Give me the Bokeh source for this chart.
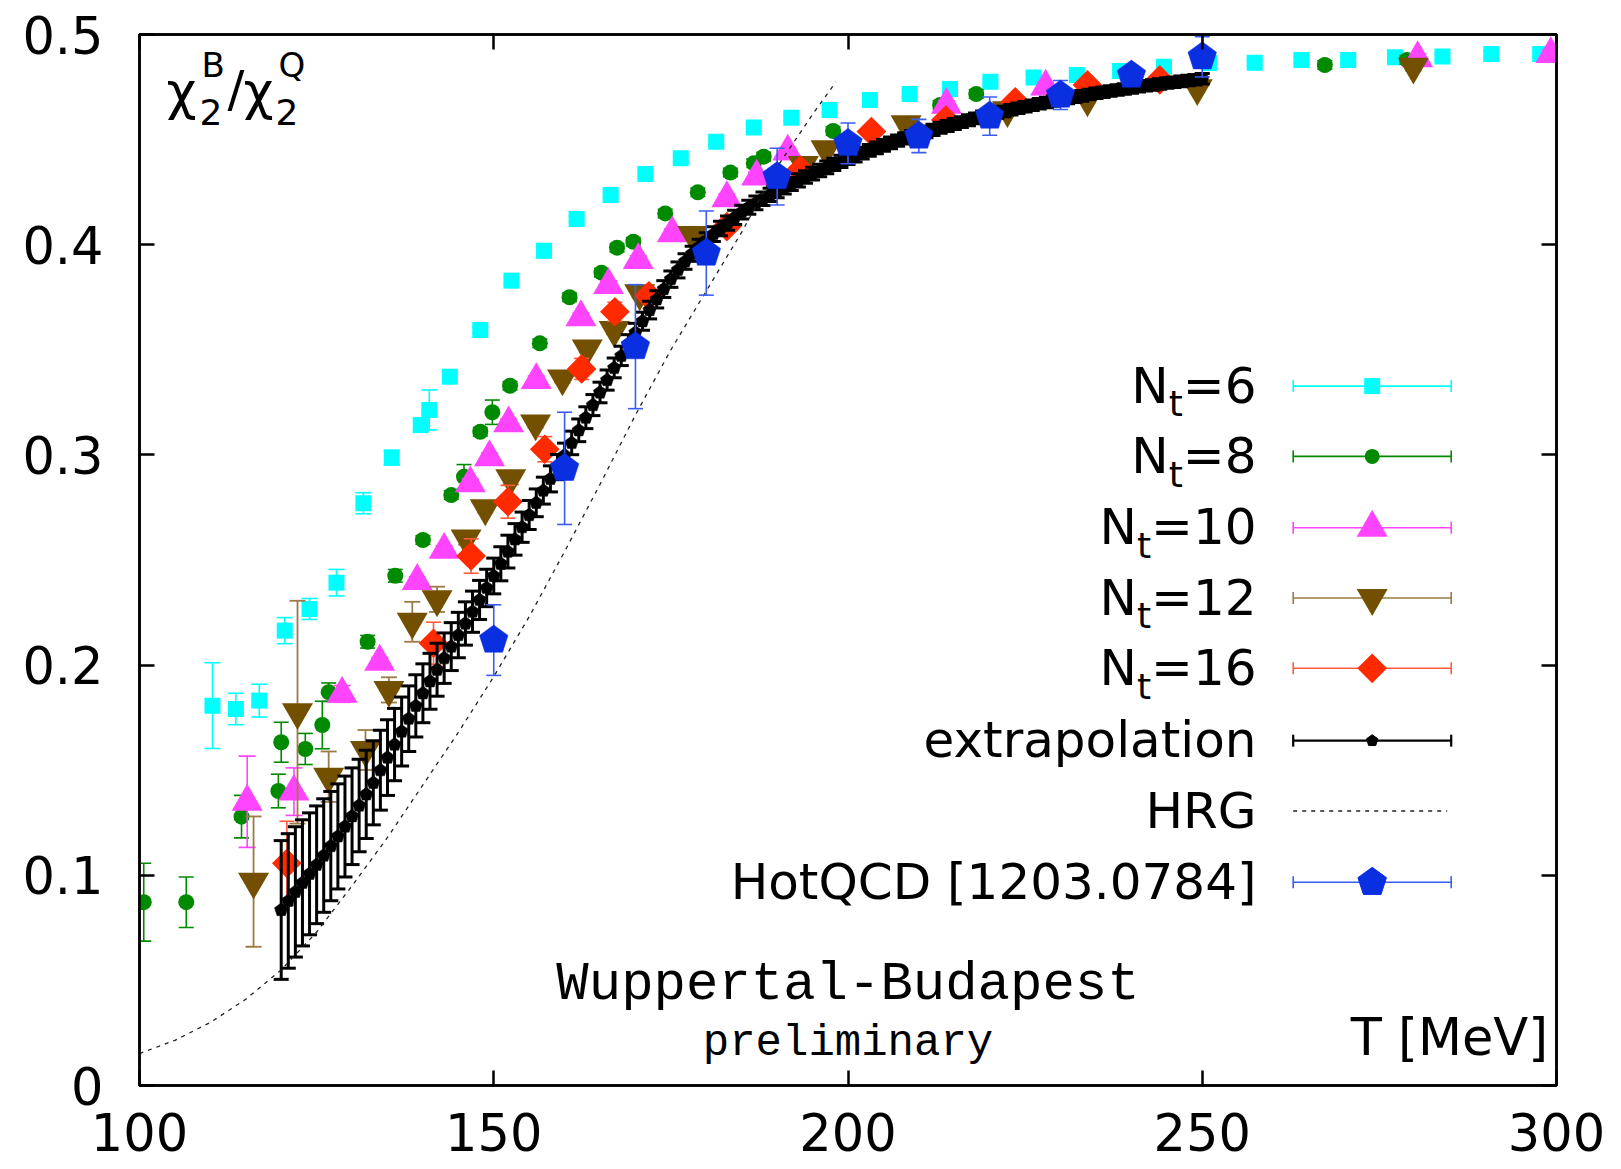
import math
from bokeh.plotting import figure
from bokeh.models import Range1d, LinearAxis, FixedTicker
from bokeh.embed import file_html
from bokeh.resources import INLINE
from bokeh.core.properties import value

# ---------------- data ----------------
nt6_T = [110.3, 113.6, 116.9, 120.5, 124.0, 127.8, 131.6, 135.6, 139.7, 140.9, 143.8, 148.1, 152.5,
         157.1, 161.7, 166.5, 171.4, 176.4, 181.4, 186.7, 192.0, 197.4, 203.1, 208.7, 214.4, 220.1,
         226.2, 232.3, 238.4, 244.6, 251.0, 257.4, 264.0, 270.6, 277.2, 283.9, 290.8, 297.7]
nt6_v = [0.1807, 0.1791, 0.1831, 0.2164, 0.2267, 0.2392, 0.2770, 0.2987, 0.3142, 0.3214, 0.3372, 0.3594,
         0.3829, 0.3971, 0.4122, 0.4236, 0.4336, 0.4411, 0.4490, 0.4557, 0.4604, 0.4641, 0.4688, 0.4717,
         0.4741, 0.4775, 0.4795, 0.4807, 0.4826, 0.4847, 0.4864, 0.4866, 0.4879, 0.4879, 0.4892, 0.4895,
         0.4907, 0.4907]
nt6_e = [0.0204, 0.0075, 0.0078, 0.0062, 0.0050, 0.0063, 0.0050, 0.0035, 0.0030, 0.0095, 0.0020, 0.0015,
         0.0015, 0.0015, 0.0015, 0.0015, 0.0015, 0.0015, 0.0015, 0.0015, 0.0015, 0.0015, 0.0015, 0.0015,
         0.0015, 0.0015, 0.0015, 0.0015, 0.0015, 0.0015, 0.0015, 0.0015, 0.0015, 0.0015, 0.0015, 0.0015,
         0.0015, 0.0015]

nt8_T = [100.6, 106.6, 114.4, 119.6, 120.0, 123.4, 125.8, 126.7, 132.2, 136.1, 140.0, 144.0, 145.8,
         148.1, 149.8, 152.3, 156.5, 160.7, 165.2, 167.4, 169.7, 174.2, 178.8, 183.4, 186.7, 188.1,
         197.9, 213.0, 218.1, 267.3, 278.9]
nt8_v = [0.0872, 0.0872, 0.1279, 0.1401, 0.1633, 0.1601, 0.1715, 0.1871, 0.2111, 0.2425, 0.2595, 0.2809,
         0.2896, 0.3110, 0.3203, 0.3329, 0.3531, 0.3750, 0.3867, 0.3986, 0.4014, 0.4149, 0.4249, 0.4343,
         0.4387, 0.4419, 0.4541, 0.4665, 0.4717, 0.4855, 0.4879]
nt8_e = [0.0185, 0.0120, 0.0101, 0.0080, 0.0095, 0.0074, 0.0113, 0.0044, 0.0030, 0.0030, 0.0020, 0.0020,
         0.0058, 0.0020, 0.0058, 0.0020, 0.0020, 0.0020, 0.0020, 0.0020, 0.0020, 0.0020, 0.0020, 0.0020,
         0.0020, 0.0020, 0.0020, 0.0020, 0.0020, 0.0020, 0.0020]

nt10_T = [115.2, 121.8, 128.6, 133.9, 139.2, 143.0, 146.7, 149.4, 152.1, 156.0, 162.3, 166.2, 170.4,
          175.2, 182.9, 187.1, 191.5, 213.9, 227.9, 280.4, 299.2]
nt10_v = [0.1350, 0.1398, 0.1863, 0.2016, 0.2400, 0.2548, 0.2865, 0.2989, 0.3150, 0.3356, 0.3655, 0.3808,
          0.3927, 0.4054, 0.4221, 0.4324, 0.4443, 0.4665, 0.4752, 0.4887, 0.4907]
nt10_e = [0.0217, 0.0113, 0.0040, 0.0020, 0.0020, 0.0020, 0.0020, 0.0020, 0.0020, 0.0020, 0.0020, 0.0020,
          0.0020, 0.0020, 0.0020, 0.0020, 0.0020, 0.0020, 0.0020, 0.0020, 0.0020]

nt12_T = [116.1, 122.3, 126.7, 131.9, 135.2, 138.5, 142.0, 146.1, 148.8, 152.4, 155.9, 159.7, 163.2,
          167.0, 170.6, 178.1, 193.7, 196.9, 208.2, 222.5, 233.8, 249.3, 279.8]
nt12_v = [0.0970, 0.1776, 0.1469, 0.1596, 0.1882, 0.2206, 0.2313, 0.2603, 0.2746, 0.2889, 0.3150, 0.3364,
          0.3507, 0.3594, 0.3769, 0.4046, 0.4379, 0.4454, 0.4573, 0.4640, 0.4692, 0.4745, 0.4847]
nt12_e = [0.0310, 0.0530, 0.0120, 0.0095, 0.0060, 0.0095, 0.0060, 0.0030, 0.0020, 0.0030, 0.0020, 0.0020,
          0.0020, 0.0020, 0.0020, 0.0020, 0.0020, 0.0020, 0.0020, 0.0020, 0.0020, 0.0020, 0.0020]

nt16_T = [120.8, 141.5, 146.8, 152.0, 157.2, 162.4, 167.1, 171.9, 182.9, 193.3, 203.3, 213.8, 223.6,
          233.8, 244.0]
nt16_v = [0.1057, 0.2104, 0.2519, 0.2777, 0.3027, 0.3409, 0.3681, 0.3757, 0.4086, 0.4355, 0.4538, 0.4593,
          0.4680, 0.4760, 0.4784]
nt16_e = [0.0200, 0.0100, 0.0082, 0.0078, 0.0060, 0.0050, 0.0045, 0.0030, 0.0020, 0.0020, 0.0020, 0.0020,
          0.0020, 0.0020, 0.0020]

hot_T = [150, 160, 170, 180, 190, 200, 210, 220, 230, 240, 250]
hot_v = [0.2119, 0.2936, 0.3515, 0.3960, 0.4324, 0.4482, 0.4517, 0.4612, 0.4712, 0.4807, 0.4894]
hot_e = [0.0168, 0.0267, 0.0295, 0.0200, 0.0135, 0.0097, 0.0079, 0.0091, 0.0069, 0.0030, 0.0096]

ext_T = list(range(120, 251))
ext_v = [0.0835, 0.0878, 0.0921, 0.0964, 0.1007, 0.1050, 0.1094, 0.1139, 0.1185, 0.1232,
         0.1281, 0.1332, 0.1385, 0.1440, 0.1500, 0.1560, 0.1622, 0.1684, 0.1745, 0.1806,
         0.1866, 0.1923, 0.1978, 0.2033, 0.2088, 0.2143, 0.2198, 0.2254, 0.2310, 0.2367,
         0.2424, 0.2482, 0.2540, 0.2598, 0.2656, 0.2714, 0.2772, 0.2830, 0.2886, 0.2942,
         0.2998, 0.3057, 0.3117, 0.3177, 0.3237, 0.3297, 0.3356, 0.3414, 0.3471, 0.3527,
         0.3582, 0.3636, 0.3689, 0.3740, 0.3789, 0.3836, 0.3880, 0.3920, 0.3957, 0.3991,
         0.4022, 0.4050, 0.4077, 0.4103, 0.4130, 0.4155, 0.4178, 0.4199, 0.4219, 0.4237,
         0.4255, 0.4272, 0.4289, 0.4306, 0.4322, 0.4338, 0.4353, 0.4368, 0.4382, 0.4396,
         0.4410, 0.4423, 0.4436, 0.4449, 0.4461, 0.4473, 0.4484, 0.4495, 0.4506, 0.4516,
         0.4526, 0.4536, 0.4546, 0.4556, 0.4565, 0.4574, 0.4583, 0.4592, 0.4601, 0.4610,
         0.4618, 0.4626, 0.4634, 0.4642, 0.4649, 0.4656, 0.4663, 0.4670, 0.4677, 0.4684,
         0.4690, 0.4696, 0.4702, 0.4708, 0.4714, 0.4720, 0.4725, 0.4731, 0.4736, 0.4741,
         0.4746, 0.4751, 0.4756, 0.4760, 0.4765, 0.4769, 0.4773, 0.4777, 0.4781, 0.4785,
         0.4789]
ext_e = [0.0330, 0.0320, 0.0310, 0.0300, 0.0290, 0.0280, 0.0270, 0.0260, 0.0250, 0.0240,
         0.0230, 0.0220, 0.0210, 0.0200, 0.0190, 0.0180, 0.0172, 0.0164, 0.0156, 0.0148,
         0.0140, 0.0133, 0.0126, 0.0120, 0.0114, 0.0108, 0.0103, 0.0098, 0.0093, 0.0089,
         0.0085, 0.0081, 0.0078, 0.0075, 0.0072, 0.0069, 0.0066, 0.0064, 0.0062, 0.0060,
         0.0058, 0.0056, 0.0054, 0.0052, 0.0050, 0.0049, 0.0048, 0.0047, 0.0046, 0.0045,
         0.0044, 0.0043, 0.0042, 0.0041, 0.0040, 0.0039, 0.0038, 0.0037, 0.0036, 0.0035,
         0.0035, 0.0035, 0.0034, 0.0034, 0.0034, 0.0033, 0.0033, 0.0033, 0.0032, 0.0032,
         0.0032, 0.0031, 0.0031, 0.0031, 0.0030, 0.0030, 0.0030, 0.0030, 0.0029, 0.0029,
         0.0029, 0.0029, 0.0028, 0.0028, 0.0028, 0.0028, 0.0028, 0.0027, 0.0027, 0.0027,
         0.0027, 0.0027, 0.0027, 0.0026, 0.0026, 0.0026, 0.0026, 0.0026, 0.0026, 0.0026,
         0.0025, 0.0025, 0.0025, 0.0025, 0.0025, 0.0025, 0.0025, 0.0025, 0.0025, 0.0025,
         0.0025, 0.0025, 0.0025, 0.0025, 0.0025, 0.0025, 0.0025, 0.0025, 0.0025, 0.0025,
         0.0025, 0.0025, 0.0025, 0.0025, 0.0025, 0.0025, 0.0025, 0.0025, 0.0025, 0.0025,
         0.0025]

hrg_T = [100, 105, 110, 115, 120, 125, 130, 135, 140, 145, 150, 155, 160, 165, 170, 175, 180, 185,
         190, 195, 198.3]
hrg_v = [0.0152, 0.0215, 0.0300, 0.0410, 0.0550, 0.0730, 0.0950, 0.1180, 0.1430, 0.1680, 0.1945,
         0.2230, 0.2540, 0.2860, 0.3190, 0.3500, 0.3780, 0.4060, 0.4370, 0.4620, 0.4775]

x_ticks = [100, 150, 200, 250, 300]
y_ticks = [0, 0.1, 0.2, 0.3, 0.4, 0.5]
y_tick_labels = ["0", "0.1", "0.2", "0.3", "0.4", "0.5"]

# ---------------- layout ----------------
W, H = 1613, 1169
ML, MR, MT, MB = 139, 57, 34, 84
FW = W - ML - MR
FH = H - MT - MB
X0, X1, Y0, Y1 = 100, 300, 0.0, 0.5
SX = FW / (X1 - X0)
SY = FH / (Y1 - Y0)
BASE_FIX = 0.31   # empirical baseline correction (em)


def X(px):
    return X0 + px / SX


def Y(py):
    return Y1 - py / SY


FONT = "DejaVu Sans"

p = figure(width=W, height=H, x_range=Range1d(X0, X1), y_range=Range1d(Y0, Y1),
           output_backend="svg", toolbar_location=None,
           min_border_left=ML, min_border_right=MR, min_border_top=MT, min_border_bottom=MB)
p.xgrid.visible = False
p.ygrid.visible = False
p.outline_line_color = "black"
p.outline_line_width = 2.5
p.background_fill_color = "white"
p.border_fill_color = "white"

p.xaxis.ticker = FixedTicker(ticks=x_ticks)
p.yaxis.ticker = FixedTicker(ticks=y_ticks)
p.yaxis.major_label_overrides = {t: s for t, s in zip(y_ticks, y_tick_labels)}
for ax in (p.xaxis[0], p.yaxis[0]):
    ax.axis_line_width = 2.5
    ax.major_tick_in = 15
    ax.major_tick_out = 0
    ax.major_tick_line_width = 2.5
    ax.minor_tick_line_color = None
    ax.major_label_text_font = FONT
    ax.major_label_text_font_size = "51px"
    ax.major_label_text_color = "black"
p.yaxis.major_label_standoff = 36
p.xaxis.major_label_standoff = 27

top = LinearAxis(ticker=FixedTicker(ticks=x_ticks), major_label_text_font_size="0px",
                 major_label_standoff=0, major_tick_in=15, major_tick_out=0,
                 major_tick_line_width=2.5, axis_line_width=2.5, minor_tick_line_color=None)
right = LinearAxis(ticker=FixedTicker(ticks=y_ticks), major_label_text_font_size="0px",
                   major_label_standoff=0, major_tick_in=15, major_tick_out=0,
                   major_tick_line_width=2.5, axis_line_width=2.5, minor_tick_line_color=None)
p.add_layout(top, "above")
p.add_layout(right, "right")

C6, C8, C10, C12, C16, CX, CH = "#00ffff", "#008a00", "#ff44ff", "#735000", "#ff2a00", "#000000", "#0a2fe0"
B12 = "#9c7a45"
B16 = "#ff5a3a"
BH = "#3a5cf0"


def errbars(T, v, e, color, cap, lw):
    top_ = [a + b for a, b in zip(v, e)]
    bot_ = [a - b for a, b in zip(v, e)]
    p.segment(T, bot_, T, top_, line_color=color, line_width=lw)
    p.scatter(list(T) + list(T), top_ + bot_, marker="dash", size=cap, line_color=color, line_width=lw)


def pentagons(T, v, R):
    xs, ys = [], []
    for t, y in zip(T, v):
        ang = [math.pi / 2 + k * 2 * math.pi / 5 for k in range(5)]
        xs.append([t + R * math.cos(a) / SX for a in ang])
        ys.append([y + R * math.sin(a) / SY for a in ang])
    return xs, ys


# Nt=6
errbars(nt6_T, nt6_v, nt6_e, C6, 16, 1.6)
p.scatter(nt6_T, nt6_v, marker="square", size=16, fill_color=C6, line_color=None)
# Nt=8
errbars(nt8_T, nt8_v, nt8_e, C8, 15, 1.6)
p.scatter(nt8_T, nt8_v, marker="circle", size=16, fill_color=C8, line_color=None)
# Nt=10
errbars(nt10_T, nt10_v, nt10_e, C10, 17, 1.6)
p.scatter(nt10_T, nt10_v, marker="triangle", size=31, fill_color=C10, line_color=None)
# Nt=12
errbars(nt12_T, nt12_v, nt12_e, B12, 16, 1.8)
p.scatter(nt12_T, nt12_v, marker="inverted_triangle", size=31, fill_color=C12, line_color=None)
# Nt=16
errbars(nt16_T, nt16_v, nt16_e, B16, 15, 1.6)
p.scatter(nt16_T, nt16_v, marker="square", angle=math.pi / 4, size=21, fill_color=C16, line_color=None)
# extrapolation
errbars(ext_T, ext_v, ext_e, CX, 15, 3.0)
exs, eys = pentagons(ext_T, ext_v, 7)
p.patches(exs, eys, fill_color=CX, line_color=CX, line_width=0.5)
# HRG
p.line(hrg_T, hrg_v, line_color="#222222", line_width=1.3, line_dash="4 5")
# HotQCD
errbars(hot_T, hot_v, hot_e, BH, 15, 1.6)
hxs, hys = pentagons(hot_T, hot_v, 15)
p.patches(hxs, hys, fill_color=CH, line_color=CH, line_width=0.5)

# ---------------- legend (drawn) ----------------
LX_TEXT = 1117          # px from frame left (right edge of texts)
LX_L, LX_R, LX_M = 1153.7, 1311.7, 1232.7
ROWS = [351.6, 421.9, 493.2, 563.5, 633.8, 706.2, 776.5, 847.8]
LFS = 50
CAPH = 15  # px from row line down to text baseline


def text(xv, py, s, size, font=FONT, align="left", color="black"):
    p.text(x=[xv], y=[Y(py - BASE_FIX * size)], text=[s], text_font=value(font),
           text_font_size=value(f"{size}px"), text_align=align, text_baseline="alphabetic",
           text_color=color)


def sample(row, color, lw=1.6):
    yv = Y(ROWS[row])
    p.segment([X(LX_L)], [yv], [X(LX_R)], [yv], line_color=color, line_width=lw)
    p.scatter([X(LX_L), X(LX_R)], [yv, yv], marker="dash", angle=math.pi / 2, size=12,
              line_color=color, line_width=lw)


nt_names = ["6", "8", "10", "12", "16"]
EQW = 0.838 * LFS
DGW = 0.636 * LFS
TW = 0.392 * 36
for i, n in enumerate(nt_names):
    rest = "=" + n
    wrest = EQW + DGW * len(n)
    text(X(LX_TEXT), ROWS[i] + CAPH, rest, LFS, align="right")
    text(X(LX_TEXT - wrest), ROWS[i] + CAPH + 14, "t", 36, align="right")
    text(X(LX_TEXT - wrest - TW), ROWS[i] + CAPH, "N", LFS, align="right")

text(X(LX_TEXT), ROWS[5] + CAPH, "extrapolation", LFS, align="right")
text(X(LX_TEXT), ROWS[6] + CAPH, "HRG", LFS, align="right")
text(X(LX_TEXT), ROWS[7] + CAPH, "HotQCD [1203.0784]", LFS, align="right")

sample(0, C6)
p.scatter([X(LX_M)], [Y(ROWS[0])], marker="square", size=16, fill_color=C6, line_color=None)
sample(1, C8)
p.scatter([X(LX_M)], [Y(ROWS[1])], marker="circle", size=15, fill_color=C8, line_color=None)
sample(2, C10)
p.scatter([X(LX_M)], [Y(ROWS[2])], marker="triangle", size=31, fill_color=C10, line_color=None)
sample(3, B12)
p.scatter([X(LX_M)], [Y(ROWS[3])], marker="inverted_triangle", size=31, fill_color=C12, line_color=None)
sample(4, B16)
p.scatter([X(LX_M)], [Y(ROWS[4])], marker="square", angle=math.pi / 4, size=21, fill_color=C16,
          line_color=None)
sample(5, CX, 2.2)
lx, ly = pentagons([X(LX_M)], [Y(ROWS[5])], 6)
p.patches(lx, ly, fill_color=CX, line_color=CX)
yv = Y(ROWS[6])
p.segment([X(LX_L)], [yv], [X(LX_R - 4)], [yv], line_color="#222222", line_width=1.3, line_dash="4 5")
sample(7, BH)
lx, ly = pentagons([X(LX_M)], [Y(ROWS[7])], 15)
p.patches(lx, ly, fill_color=CH, line_color=CH)

# ---------------- labels ----------------
text(X(27), 73, "χ", 52)
text(X(60), 89, "2", 36)
text(X(62), 41, "B", 34)
text(X(88), 70, "/", 50)
text(X(104), 73, "χ", 52)
text(X(136), 89, "2", 36)
text(X(139), 41, "Q", 34)

text(200, 966.7, "Wuppertal-Budapest", 54, font="Liberation Mono", align="center")
text(200, 1022.5, "preliminary", 44, font="Liberation Mono", align="center")
text(X(1408.6), 1018.4, "T [MeV]", 51, align="right")

open("out.html", "w").write(file_html(p, INLINE))
